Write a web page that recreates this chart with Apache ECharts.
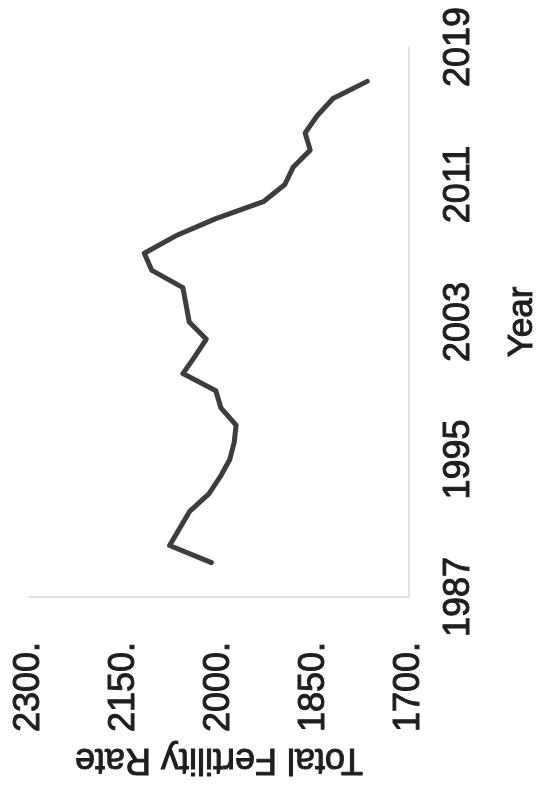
<!DOCTYPE html>
<html>
<head>
<meta charset="utf-8">
<script src="https://cdn.jsdelivr.net/npm/echarts@6/dist/echarts.min.js"></script>
<style>
  html, body { margin: 0; padding: 0; background: #ffffff; }
  #chart { width: 541px; height: 788px; }
</style>
</head>
<body>
<div id="chart"></div>
<script>
// Data read from the (rotated) reference chart
const years = [1989, 1990, 1991, 1992, 1993, 1994, 1995, 1996, 1997, 1998, 1999, 2000, 2001, 2002, 2003, 2004, 2005, 2006, 2007, 2008, 2009, 2010, 2011, 2012, 2013, 2014, 2015, 2016, 2017];
const tfr   = [2012, 2078, 2062, 2046, 2016, 1998, 1983, 1976, 1973, 1997, 2005, 2057, 2038, 2020, 2047, 2052, 2057, 2106, 2118, 2069, 2006, 1930, 1896, 1883, 1856, 1864, 1845, 1820, 1766];
const tfrTicks  = [1700, 1850, 2000, 2150, 2300];
const yearTicks = [1987, 1995, 2003, 2011, 2019];
const xTitle = 'Year';
const yTitle = 'Total Fertility Rate';

const points = years.map((y, i) => [tfr[i], y]);

const chart = echarts.init(document.getElementById('chart'), null, { renderer: 'canvas' });
const font = 'Liberation Sans, Arial, sans-serif';
const txt = '#1e1e1e';
const heavy = { textBorderColor: txt, textBorderWidth: 1 };

chart.setOption({
  animation: false,
  backgroundColor: '#ffffff',
  grid: { left: 29, right: 132, top: 47, bottom: 191, containLabel: false, outerBoundsMode: 'none' },
  xAxis: {
    type: 'value',
    position: 'bottom',
    inverse: true,
    min: tfrTicks[0],
    max: tfrTicks[tfrTicks.length - 1],
    interval: 150,
    name: yTitle,
    nameLocation: 'middle',
    nameRotate: 180,
    nameGap: 144,
    nameMoveOverlap: false,
    nameTextStyle: Object.assign({ fontFamily: font, fontSize: 36, color: txt }, heavy),
    axisLine: { show: true, lineStyle: { color: '#d9d9d9', width: 1.5 } },
    axisTick: { show: false },
    splitLine: { show: false },
    axisLabel: Object.assign({
      rotate: 90,
      margin: 45,
      fontFamily: font,
      fontSize: 36,
      color: txt,
      formatter: v => v + '.'
    }, heavy)
  },
  yAxis: {
    type: 'value',
    position: 'right',
    min: yearTicks[0],
    max: yearTicks[yearTicks.length - 1],
    interval: 8,
    name: xTitle,
    nameLocation: 'middle',
    nameRotate: 90,
    nameGap: 96,
    nameMoveOverlap: false,
    nameTextStyle: Object.assign({ fontFamily: font, fontSize: 35, color: txt }, heavy),
    axisLine: { show: true, lineStyle: { color: '#d9d9d9', width: 1.5 } },
    axisTick: { show: false },
    splitLine: { show: false },
    axisLabel: Object.assign({
      rotate: 90,
      margin: 32,
      fontFamily: font,
      fontSize: 36,
      color: txt,
      formatter: v => String(v)
    }, heavy)
  },
  series: [{
    type: 'line',
    data: points,
    symbol: 'none',
    smooth: false,
    lineStyle: { color: '#3d3d3d', width: 5, cap: 'round', join: 'round' }
  }]
});
</script>
</body>
</html>
